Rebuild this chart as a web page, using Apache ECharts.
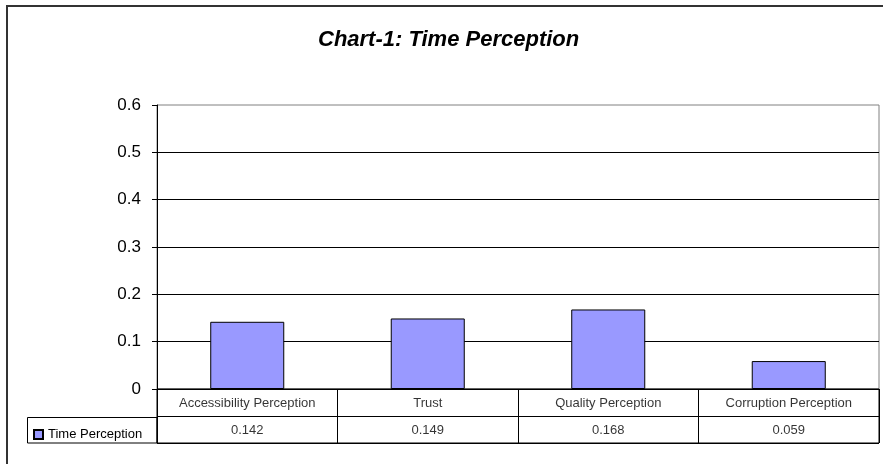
<!DOCTYPE html>
<html>
<head>
<meta charset="utf-8">
<title>Chart-1: Time Perception</title>
<script src="https://cdn.jsdelivr.net/npm/echarts@6/dist/echarts.min.js"></script>
<style>
  html, body { margin: 0; padding: 0; background: #fff; }
  #chart { width: 883px; height: 464px; }
</style>
</head>
<body>
<div id="chart"></div>
<script>
var categories = ['Accessibility Perception', 'Trust', 'Quality Perception', 'Corruption Perception'];
var seriesName = 'Time Perception';
var values = [0.142, 0.149, 0.168, 0.059];
var valueLabels = ['0.142', '0.149', '0.168', '0.059'];
var tableRows = ['names', 'values'];

var FONT = '"Liberation Sans", Arial, sans-serif';

// table cells: row 0 = category names, row 1 = values
var tableCells = [];
categories.forEach(function (c, i) {
  tableCells.push({ value: [i, 0], text: c });
  tableCells.push({ value: [i, 1], text: valueLabels[i] });
});

var chart = echarts.init(document.getElementById('chart'));

var option = {
  animation: false,
  backgroundColor: '#fff',
  title: {
    text: 'Chart-1: Time Perception',
    left: 313,
    top: 24,
    textStyle: { fontFamily: FONT, fontSize: 22, fontWeight: 'bold', fontStyle: 'italic', color: '#000' }
  },
  legend: {
    left: 28,
    top: 423,
    itemWidth: 9,
    itemHeight: 9,
    itemGap: 4,
    icon: 'rect',
    data: [seriesName],
    textStyle: { fontFamily: FONT, fontSize: 13, color: '#000' }
  },
  grid: [
    { left: 157, right: 4, top: 105, height: 284, show: true, borderColor: '#808080', borderWidth: 1, backgroundColor: '#fff' },
    { left: 157, right: 4, top: 389, height: 54, show: true, borderColor: '#000', borderWidth: 1 }
  ],
  xAxis: [
    {
      type: 'category', gridIndex: 0, data: categories,
      axisLine: { lineStyle: { color: '#000' } },
      axisTick: { show: false },
      axisLabel: { show: false }
    },
    {
      type: 'category', gridIndex: 1, data: categories,
      axisLine: { show: false },
      axisTick: { show: false },
      axisLabel: { show: false },
      splitLine: { show: true, lineStyle: { color: '#000' } }
    }
  ],
  yAxis: [
    {
      type: 'value', gridIndex: 0, min: 0, max: 0.6, interval: 0.1,
      axisLine: { show: true, lineStyle: { color: '#000' } },
      axisTick: { show: true, length: 5, lineStyle: { color: '#000' } },
      axisLabel: { fontFamily: FONT, fontSize: 17, color: '#000', margin: 16 },
      splitLine: { showMaxLine: false, lineStyle: { color: '#000' } }
    },
    {
      type: 'category', gridIndex: 1, data: tableRows, inverse: true,
      axisLine: { show: true, lineStyle: { color: '#000' } },
      axisTick: { show: false },
      axisLabel: { show: false },
      splitLine: { show: true, lineStyle: { color: '#000' } }
    }
  ],
  graphic: [
    // chart frame
    { type: 'rect', shape: { x: 7, y: 6, width: 900, height: 500 }, style: { fill: null, stroke: '#333', lineWidth: 2 }, silent: true, z: 100 },
    // legend cell of the data table
    { type: 'rect', shape: { x: 27.5, y: 417.5, width: 129.5, height: 25.5 }, style: { fill: null, stroke: '#000', lineWidth: 1 }, silent: true, z: 100 }
  ],
  series: [
    {
      name: seriesName,
      type: 'bar',
      xAxisIndex: 0, yAxisIndex: 0,
      data: values,
      barWidth: '41%',
      itemStyle: { color: '#9999FF', borderColor: '#000', borderWidth: 1 }
    },
    {
      name: 'table',
      type: 'scatter',
      xAxisIndex: 1, yAxisIndex: 1,
      symbolSize: 0,
      silent: true,
      data: tableCells,
      label: {
        show: true,
        position: 'inside',
        offset: [0, 1],
        formatter: function (p) { return p.data.text; },
        fontFamily: FONT, fontSize: 13, color: '#000'
      }
    }
  ]
};

chart.setOption(option);
</script>
</body>
</html>
